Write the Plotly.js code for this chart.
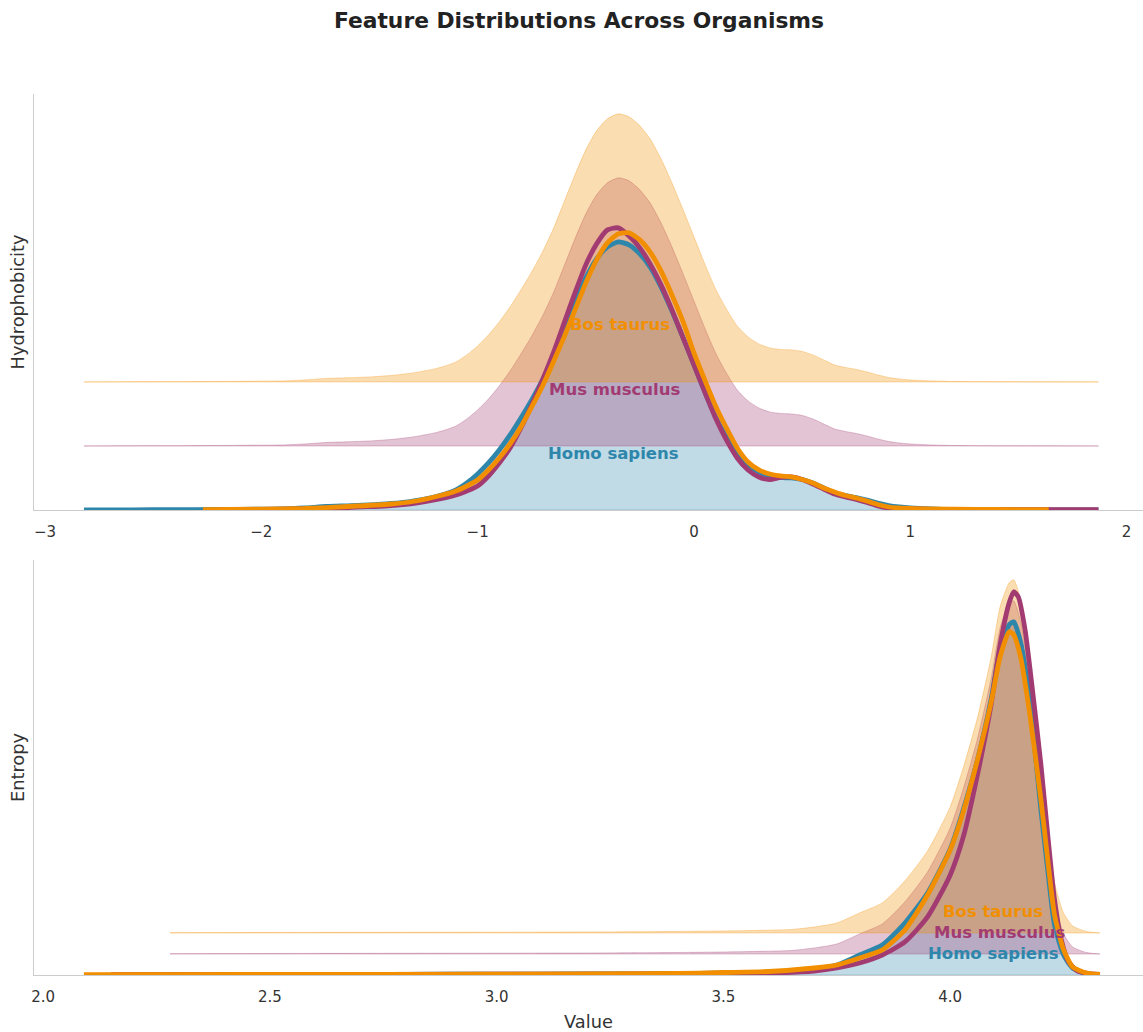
<!DOCTYPE html>
<html>
<head>
<meta charset="utf-8">
<script src="https://cdn.plot.ly/plotly-3.0.1.min.js"></script>
<style>html,body{margin:0;padding:0;background:#fff;}#chart{width:1143px;height:1032px;}</style>
</head>
<body>
<div id="chart"></div>
<script>
// ---------------- data ----------------
const species = ['Homo sapiens', 'Mus musculus', 'Bos taurus'];
const colors = ['#2E86AB', '#A23B72', '#F18F01'];
const fillColors = ['rgba(46,134,171,0.3)', 'rgba(162,59,114,0.3)', 'rgba(241,143,1,0.3)'];

// Hydrophobicity densities
const hydroHomoX = [-2.82,-2.6,-2.4,-2.2,-2.0,-1.9,-1.8,-1.7,-1.6,-1.5,-1.4,-1.3,-1.2,-1.15,-1.1,-1.05,-1.0,-0.95,-0.9,-0.85,-0.8,-0.75,-0.7,-0.65,-0.6,-0.55,-0.5,-0.45,-0.4,-0.35,-0.3,-0.25,-0.2,-0.15,-0.1,-0.05,0,0.05,0.1,0.15,0.2,0.25,0.3,0.35,0.4,0.45,0.5,0.55,0.6,0.65,0.7,0.75,0.8,0.85,0.9,0.95,1.0,1.1,1.2,1.4,1.6,1.87];
const hydroHomoY = [0,0.001,0.0015,0.0025,0.004,0.005,0.01,0.0175,0.021,0.025,0.0325,0.045,0.065,0.08,0.1,0.135,0.18,0.235,0.3,0.375,0.46,0.55,0.65,0.765,0.9,1.035,1.16,1.255,1.315,1.34,1.325,1.28,1.21,1.11,0.99,0.86,0.725,0.59,0.465,0.365,0.28,0.225,0.19,0.17,0.1625,0.16,0.1525,0.135,0.11,0.085,0.0725,0.0625,0.05,0.035,0.0225,0.015,0.01,0.005,0.0025,0.001,0.0005,0];
const hydroMusX = [-2.2,-2.0,-1.8,-1.6,-1.4,-1.3,-1.2,-1.1,-1.05,-1.0,-0.95,-0.9,-0.85,-0.8,-0.75,-0.7,-0.65,-0.6,-0.55,-0.5,-0.45,-0.4,-0.35,-0.3,-0.25,-0.2,-0.15,-0.1,-0.05,0,0.05,0.1,0.15,0.2,0.25,0.3,0.35,0.4,0.45,0.5,0.55,0.6,0.65,0.7,0.75,0.8,0.85,0.9,1.0,1.2,1.4,1.6,1.87];
const hydroMusY = [0.0015,0.0025,0.006,0.0125,0.0225,0.0325,0.05,0.075,0.095,0.12,0.17,0.235,0.31,0.41,0.525,0.65,0.785,0.935,1.085,1.225,1.33,1.40,1.41,1.37,1.31,1.225,1.12,0.995,0.86,0.725,0.59,0.46,0.35,0.26,0.2,0.165,0.1525,0.1625,0.165,0.1525,0.13,0.105,0.08,0.065,0.0525,0.0375,0.02,0.01,0.005,0.0025,0.002,0.002,0.0015];
const hydroBosX = [-2.27,-2.0,-1.8,-1.6,-1.4,-1.3,-1.2,-1.1,-1.05,-1.0,-0.95,-0.9,-0.85,-0.8,-0.75,-0.7,-0.65,-0.6,-0.55,-0.5,-0.45,-0.4,-0.35,-0.3,-0.25,-0.2,-0.15,-0.1,-0.05,0,0.05,0.1,0.15,0.2,0.25,0.3,0.35,0.4,0.45,0.5,0.55,0.6,0.65,0.7,0.75,0.8,0.85,0.9,1.0,1.2,1.4,1.64];
const hydroBosY = [0.0015,0.004,0.0075,0.0175,0.03,0.0425,0.065,0.095,0.12,0.15,0.2,0.26,0.33,0.415,0.515,0.62,0.74,0.865,1.0,1.135,1.25,1.335,1.38,1.385,1.35,1.285,1.19,1.07,0.94,0.785,0.65,0.52,0.41,0.31,0.24,0.2,0.18,0.17,0.165,0.1525,0.135,0.11,0.09,0.0725,0.06,0.045,0.0275,0.015,0.0075,0.004,0.0025,0.0015];

// Entropy densities
const entHomoX = [2.28,2.5,2.8,3.0,3.2,3.4,3.5,3.6,3.65,3.7,3.75,3.8,3.85,3.9,3.95,4.0,4.03,4.06,4.09,4.11,4.13,4.14,4.155,4.175,4.2,4.215,4.23,4.25,4.27,4.3,4.33];
const entHomoY = [0.003,0.005,0.007,0.008,0.01,0.015,0.02,0.028,0.035,0.06,0.10,0.20,0.30,0.52,0.82,1.26,1.67,2.15,2.75,3.26,3.50,3.53,3.33,2.75,1.65,1.05,0.50,0.20,0.07,0.015,0];
const entMusX = [2.15,2.5,3.0,3.4,3.6,3.7,3.75,3.8,3.85,3.9,3.95,4.0,4.03,4.06,4.09,4.11,4.13,4.14,4.15,4.165,4.18,4.2,4.215,4.23,4.245,4.26,4.28,4.33];
const entMusY = [0.003,0.005,0.008,0.012,0.02,0.04,0.07,0.12,0.20,0.33,0.58,1.00,1.40,2.00,2.70,3.30,3.72,3.83,3.78,3.45,2.90,2.10,1.40,0.75,0.35,0.14,0.04,0.005];
const entBosX = [2.09,2.5,3.0,3.4,3.5,3.6,3.7,3.75,3.8,3.85,3.9,3.95,4.0,4.03,4.06,4.09,4.11,4.13,4.14,4.155,4.175,4.2,4.215,4.23,4.25,4.27,4.3,4.33];
const entBosY = [0.003,0.005,0.008,0.015,0.025,0.035,0.07,0.10,0.17,0.25,0.45,0.80,1.25,1.65,2.15,2.72,3.18,3.43,3.40,3.18,2.62,1.75,1.15,0.60,0.25,0.08,0.02,0.005];

// ridge offsets and label positions
const hydroOffset = 0.32;
const entOffset = 0.21;
const hydroLabelX = [-0.372, -0.368, -0.342];
const hydroLabelY = [0.28, 0.60, 0.925];
const entLabelX = [4.095, 4.108, 4.095];
const entLabelY = [0.21, 0.42, 0.63];

const hydroTicks = [-3, -2, -1, 0, 1, 2];
const entTicks = [2.0, 2.5, 3.0, 3.5, 4.0];

// ---------------- build ----------------
const FONT = 'DejaVu Sans, Verdana, sans-serif';
const traces = [];

function addPanel(xa, ya, ridgeX, ridgeY, offset, lines) {
  for (let i = 0; i < 3; i++) {
    const off = offset * i;
    traces.push({
      x: ridgeX, y: ridgeX.map(() => off), xaxis: xa, yaxis: ya,
      type: 'scatter', mode: 'lines',
      line: {color: fillColors[i], width: 1}, hoverinfo: 'skip', showlegend: false
    });
    traces.push({
      x: ridgeX, y: ridgeY.map(v => v + off), xaxis: xa, yaxis: ya,
      type: 'scatter', mode: 'lines', fill: 'tonexty', fillcolor: fillColors[i],
      line: {color: fillColors[i], width: 1, shape: 'spline', smoothing: 0.6},
      hoverinfo: 'skip', showlegend: false
    });
  }
  lines.forEach((ln, i) => {
    traces.push({
      x: ln[0], y: ln[1], xaxis: xa, yaxis: ya,
      type: 'scatter', mode: 'lines',
      line: {color: colors[i], width: 4.8, shape: 'spline', smoothing: 0.6},
      name: species[i], hoverinfo: 'skip', showlegend: false
    });
  });
}

addPanel('x', 'y', hydroHomoX, hydroHomoY, hydroOffset,
  [[hydroHomoX, hydroHomoY], [hydroMusX, hydroMusY], [hydroBosX, hydroBosY]]);
addPanel('x2', 'y2', entHomoX, entHomoY, entOffset,
  [[entHomoX, entHomoY], [entMusX, entMusY], [entBosX, entBosY]]);

const hydroMax = Math.max(...hydroHomoY) + 2 * hydroOffset;
const entMax = Math.max(...entHomoY) + 2 * entOffset;

const annotations = [];
for (let i = 0; i < 3; i++) {
  annotations.push({x: hydroLabelX[i], y: hydroLabelY[i], xref: 'x', yref: 'y', text: species[i],
    showarrow: false, xanchor: 'center', yanchor: 'middle',
    font: {family: FONT, size: 16.5, color: colors[i], weight: 'bold'}});
  annotations.push({x: entLabelX[i], y: entLabelY[i], xref: 'x2', yref: 'y2', text: species[i],
    showarrow: false, xanchor: 'center', yanchor: 'middle',
    font: {family: FONT, size: 16.5, color: colors[i], weight: 'bold'}});
}

const axisCommon = {
  showgrid: false, zeroline: false, showline: true, linecolor: '#cccccc', linewidth: 1.25,
  ticks: 'outside', ticklen: 8, tickcolor: 'rgba(0,0,0,0)',
  tickfont: {family: FONT, size: 15, color: '#333333'}, automargin: false
};

const layout = {
  width: 1143, height: 1032,
  paper_bgcolor: '#ffffff', plot_bgcolor: '#ffffff',
  margin: {l: 34, r: 0, t: 0, b: 0},
  font: {family: FONT, color: '#333333'},
  title: {text: 'Feature Distributions Across Organisms', x: 579 / 1143, xref: 'container', xanchor: 'center',
    y: 1 - 20 / 1032, yref: 'container', yanchor: 'middle',
    font: {family: FONT, size: 21.8, color: '#222222', weight: 'bold'}},
  xaxis: Object.assign({}, axisCommon, {domain: [0, 1], anchor: 'y', range: [-3.051, 2.076],
    tickvals: hydroTicks, tickformat: 'd'}),
  yaxis: Object.assign({}, axisCommon, {domain: [1 - 510 / 1032, 1 - 94 / 1032], anchor: 'x',
    range: [0, hydroMax * 1.05], showticklabels: false, ticks: '',
    title: {text: 'Hydrophobicity', font: {family: FONT, size: 17.8, color: '#333333'}, standoff: 3}}),
  xaxis2: Object.assign({}, axisCommon, {domain: [0, 1], anchor: 'y2', range: [1.980, 4.425],
    tickvals: entTicks, tickformat: '.1f',
    title: {text: 'Value', font: {family: FONT, size: 17.8, color: '#333333'}, standoff: 11}}),
  yaxis2: Object.assign({}, axisCommon, {domain: [1 - 975 / 1032, 1 - 560 / 1032], anchor: 'x2',
    range: [0, entMax * 1.05], showticklabels: false, ticks: '',
    title: {text: 'Entropy', font: {family: FONT, size: 17.8, color: '#333333'}, standoff: 3}}),
  annotations: annotations,
  showlegend: false
};

Plotly.newPlot('chart', traces, layout, {staticPlot: true, displayModeBar: false});
</script>
</body>
</html>
